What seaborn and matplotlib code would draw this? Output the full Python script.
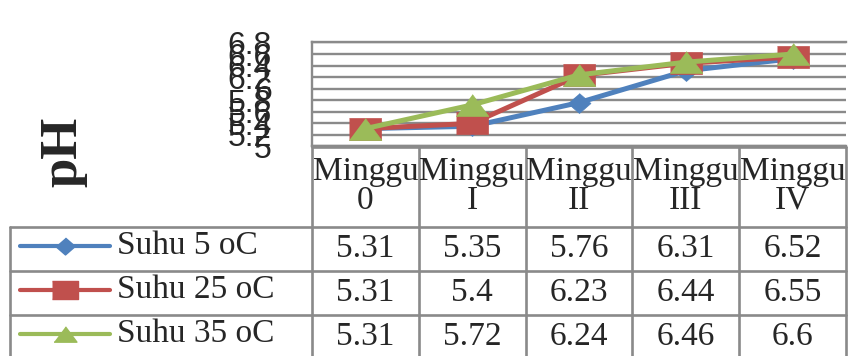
import numpy as np
import pandas as pd
import matplotlib
matplotlib.use("Agg")
import matplotlib.pyplot as plt
from matplotlib.lines import Line2D
from matplotlib.transforms import blended_transform_factory
import seaborn as sns

# pH readings over four weeks of storage at three temperatures
weeks = ["Minggu\n0", "Minggu\nI", "Minggu\nII", "Minggu\nIII", "Minggu\nIV"]
series_names = ["Suhu 5 oC", "Suhu 25 oC", "Suhu 35 oC"]
suhu_5 = [5.31, 5.35, 5.76, 6.31, 6.52]
suhu_25 = [5.31, 5.4, 6.23, 6.44, 6.55]
suhu_35 = [5.31, 5.72, 6.24, 6.46, 6.6]
value_labels = [["5.31", "5.35", "5.76", "6.31", "6.52"],
                ["5.31", "5.4", "6.23", "6.44", "6.55"],
                ["5.31", "5.72", "6.24", "6.46", "6.6"]]
y_ticks = [5.0, 5.2, 5.4, 5.6, 5.8, 6.0, 6.2, 6.4, 6.6, 6.8]
y_tick_labels = ["5", "5.2", "5.4", "5.6", "5.8", "6", "6.2", "6.4", "6.6", "6.8"]

sns.set_style("white")
plt.rcParams["font.family"] = ["Liberation Serif", "DejaVu Serif"]

W, H = 852, 356
fig = plt.figure(figsize=(W / 100, H / 100), dpi=100)

GRID = "#8a8a8a"
colors = ["#4f81bd", "#c0504d", "#9bbb59"]
# wide, flat marker shapes
diamond = [(0, 0.87), (1, 0), (0, -0.87), (-1, 0)]
square = [(-1, -0.67), (1, -0.67), (1, 0.67), (-1, 0.67)]
triangle = [(-1, -0.67), (1, -0.67), (0, 0.67)]
markers = [diamond, square, triangle]
plot_msize = [16.5, 23.5, 23.5]
legend_msize = [14.0, 19.0, 16.5]

# table/background layer in pixel coordinates
tab = fig.add_axes([0, 0, 1, 1])
tab.set_xlim(0, W)
tab.set_ylim(H, 0)
tab.axis("off")

x0, x1 = 312, 846
y_top, y_bot = 42.5, 146.5
ax = fig.add_axes([x0 / W, 1 - y_bot / H, (x1 - x0) / W, (y_bot - y_top) / H])
ax.set_facecolor("none")

df = pd.DataFrame({
    "week": list(range(len(weeks))) * 3,
    "pH": suhu_5 + suhu_25 + suhu_35,
    "series": [s for s in series_names for _ in weeks],
})

for i, name in enumerate(series_names):
    sub = df[df["series"] == name]
    sns.lineplot(data=sub, x="week", y="pH", ax=ax, color=colors[i],
                 linewidth=3.6, marker=markers[i], markersize=plot_msize[i],
                 markeredgecolor=colors[i], markeredgewidth=0.5,
                 legend=False, clip_on=False, zorder=3 + i)

ax.set_xlim(-0.5, len(weeks) - 0.5)
ax.set_ylim(5.0, 6.8)
ax.set_yticks(y_ticks)
ax.set_yticklabels(y_tick_labels, family=["Liberation Sans", "DejaVu Sans"],
                   fontsize=23)
ax.set_xticks(range(len(weeks)))
ax.set_xticklabels(weeks, fontsize=24, linespacing=0.95)
for lbl in ax.get_xticklabels():
    lbl.set_verticalalignment("center")
ax.tick_params(axis="y", length=0, pad=29)
ax.tick_params(axis="x", length=0, pad=28.5)
ax.set_xlabel("")
ax.set_ylabel("")
ax.yaxis.grid(True, color=GRID, linewidth=1.7)
ax.xaxis.grid(False)
for side in ["left", "bottom", "top"]:
    ax.spines[side].set_color(GRID)
    ax.spines[side].set_linewidth(1.7)
ax.spines["right"].set_visible(False)

# pH axis title
fig.text(63 / W, 1 - 152 / H, "pH", rotation=90, fontsize=38, fontweight="bold",
         ha="center", va="center")

# data table grid
lw_tab = 1.9
col_w = (x1 - x0) / len(weeks)
row_y = [226.5, 270.5, 314.5]
tab.plot([x0, x1], [y_bot, y_bot], color=GRID, lw=lw_tab)
for y in row_y:
    tab.plot([9.5, x1], [y, y], color=GRID, lw=lw_tab)
tab.plot([9.5, 9.5], [row_y[0], H + 2], color=GRID, lw=lw_tab)
for k in range(len(weeks) + 1):
    xv = x0 + k * col_w
    tab.plot([xv, xv], [y_bot, H + 2], color=GRID, lw=lw_tab)

# table values placed under each week position
trans = blended_transform_factory(ax.transData, tab.transData)
row_centers = [248.5, 292.5, 336.5]
for r, labels in enumerate(value_labels):
    for c, txt in enumerate(labels):
        ax.text(c, row_centers[r], txt, transform=trans, ha="center",
                va="center", fontsize=24, clip_on=False)

# legend keys in the first column
for r, name in enumerate(series_names):
    yc = row_centers[r] - 3
    tab.add_line(Line2D([20, 110], [yc, yc], color=colors[r], lw=3.0,
                        solid_capstyle="round"))
    tab.add_line(Line2D([65], [yc], color=colors[r], marker=markers[r],
                        markersize=legend_msize[r], markeredgecolor=colors[r],
                        linestyle="none"))
    tab.text(117, row_centers[r] - 3, name, ha="left", va="center", fontsize=24)

fig.savefig("out.png", dpi=100)
